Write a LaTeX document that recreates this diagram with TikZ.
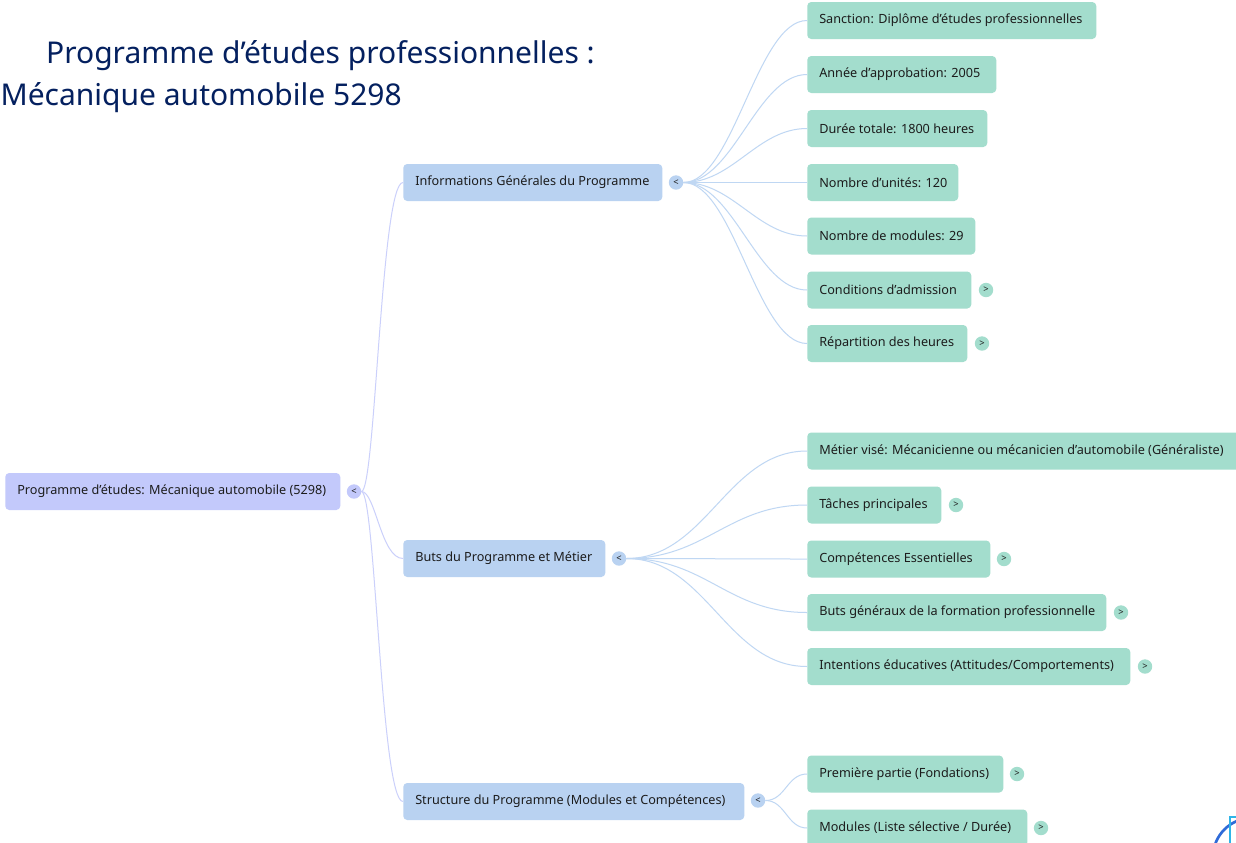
\documentclass[tikz,border=0pt]{standalone}
\usepackage{fontspec}
\setmainfont{Noto Sans}
\newfontfamily\titlefont{Noto Sans}
\definecolor{rootc}{HTML}{C3C9FB}
\definecolor{lonec}{HTML}{B9D2F1}
\definecolor{leafc}{HTML}{A3DDCD}
\definecolor{rootl}{HTML}{CBD0FB}
\definecolor{lonel}{HTML}{BFD7F3}
\definecolor{titlec}{HTML}{04205F}
\definecolor{inkc}{HTML}{1C1C1C}
\definecolor{logoa}{HTML}{2F6BD8}
\definecolor{logob}{HTML}{2FB4E8}
\tikzset{
  x=0.75pt,y=-0.75pt,
  box/.style={rectangle,rounded corners=3pt,anchor=west,minimum height=27.75pt,inner sep=0pt,text=inkc,font=\fontsize{9.5pt}{11pt}\selectfont},
  rootbox/.style={box,fill=rootc},
  lonebox/.style={box,fill=lonec},
  leafbox/.style={box,fill=leafc},
  tog/.style={circle,minimum size=10.8pt,inner sep=0pt,text=inkc,font=\fontsize{7pt}{8pt}\bfseries\selectfont},
  rootlink/.style={draw=rootl,line width=0.75pt},
  lonelink/.style={draw=lonel,line width=0.75pt},
  titlebold/.style={anchor=east,inner sep=0pt,text=titlec,font=\titlefont\fontsize{22.5pt}{26pt}\bfseries\selectfont},
  titlereg/.style={anchor=east,inner sep=0pt,text=titlec,font=\titlefont\fontsize{22.5pt}{26pt}\selectfont},
}
\newcommand{\boxnode}[5]{\node[#1] (#2) at (#3) {\makebox[\dimexpr #4pt*3/4\relax][l]{\hspace{9pt}#5}};}
\begin{document}
\begin{tikzpicture}
\useasboundingbox (0,0) rectangle (1236,843);
\clip (0,0) rectangle (1236,843);
\fill[white] (0,0) rectangle (1236,843);
\node[titlebold] (t1) at (595,56) {Programme d’études professionnelles :};
\node[titlereg] (t2) at (402,98) {Mécanique automobile 5298};
% root
\boxnode{rootbox}{root}{5,491.5}{335}{Programme d'études: Mécanique automobile (5298)}
\node[tog,fill=rootc] (troot) at (354,491.5) {<};
% level 1
\boxnode{lonebox}{info}{403,182.5}{259}{Informations Générales du Programme}
\node[tog,fill=lonec] (tinfo) at (676,182.5) {<};
\boxnode{lonebox}{buts}{403,558.5}{202}{Buts du Programme et Métier}
\node[tog,fill=lonec] (tbuts) at (619,558.5) {<};
\boxnode{lonebox}{struc}{403,801.5}{341}{Structure du Programme (Modules et Compétences)}
\node[tog,fill=lonec] (tstruc) at (758,800.5) {<};
% leaves
\boxnode{leafbox}{a1}{807,20.5}{289}{Sanction: Diplôme d'études professionnelles}
\boxnode{leafbox}{a2}{807,74.5}{189}{Année d'approbation: 2005}
\boxnode{leafbox}{a3}{807,128.5}{180}{Durée totale: 1800 heures}
\boxnode{leafbox}{a4}{807,182.5}{151}{Nombre d'unités: 120}
\boxnode{leafbox}{a5}{807,236}{168}{Nombre de modules: 29}
\boxnode{leafbox}{a6}{807,290}{164}{Conditions d'admission}
\boxnode{leafbox}{a7}{807,343.5}{160}{Répartition des heures}
\node[tog,fill=leafc] (ta6) at (986,290) {>};
\node[tog,fill=leafc] (ta7) at (982,343.5) {>};
\boxnode{leafbox}{b1}{807,451}{434}{Métier visé: Mécanicienne ou mécanicien d’automobile (Généraliste)}
\boxnode{leafbox}{b2}{807,505}{134}{Tâches principales}
\boxnode{leafbox}{b3}{807,559}{183}{Compétences Essentielles}
\boxnode{leafbox}{b4}{807,612.5}{299}{Buts généraux de la formation professionnelle}
\boxnode{leafbox}{b5}{807,666.5}{323}{Intentions éducatives (Attitudes/Comportements)}
\node[tog,fill=leafc] (tb2) at (956,505) {>};
\node[tog,fill=leafc] (tb3) at (1004,559) {>};
\node[tog,fill=leafc] (tb4) at (1121,612.5) {>};
\node[tog,fill=leafc] (tb5) at (1145,666.5) {>};
\boxnode{leafbox}{c1}{807,774}{196}{Première partie (Fondations)}
\boxnode{leafbox}{c2}{807,828}{220}{Modules (Liste sélective / Durée)}
\node[tog,fill=leafc] (tc1) at (1017,774) {>};
\node[tog,fill=leafc] (tc2) at (1041,828) {>};
% connectors
\foreach \n in {info,buts,struc}
  \draw[rootlink] (troot.east) .. controls +(14,0) and +(-22,0) .. (\n.west);
\foreach \n in {a1,a2,a3,a4,a5,a6,a7}
  \draw[lonelink] (tinfo.east) .. controls +(50,0) and +(-50,0) .. (\n.west);
\foreach \n in {b1,b2,b3,b4,b5}
  \draw[lonelink] (tbuts.east) .. controls +(80,0) and +(-80,0) .. (\n.west);
\foreach \n in {c1,c2}
  \draw[lonelink] (tstruc.east) .. controls +(20,0) and +(-20,0) .. (\n.west);
% logo
\draw[line width=2pt,draw=logoa] (1252,857) circle (39);
\draw[line width=1pt,draw=logob] (1230,843) -- (1230,817) -- (1240,817);
\end{tikzpicture}
\end{document}
